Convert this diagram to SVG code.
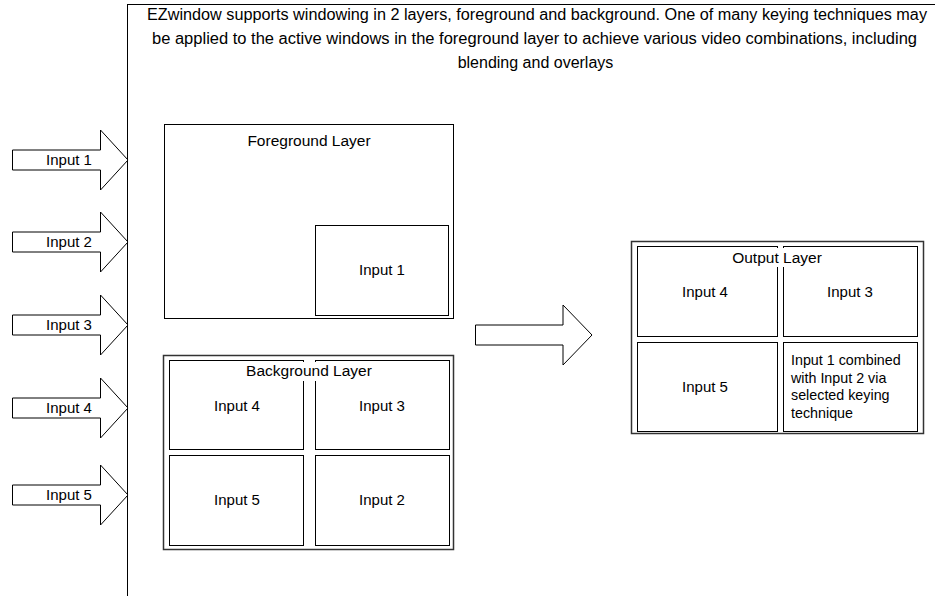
<svg xmlns="http://www.w3.org/2000/svg" width="935" height="596" viewBox="0 0 935 596">
<style>
text{font-family:"Liberation Sans",Arial,sans-serif;font-size:15px;fill:#000}
.c{text-anchor:middle}
.h{font-size:16px}
.t{font-size:15.5px}
.s{font-size:14.3px}
.box{fill:#fff;stroke:#000;stroke-width:1}
.outer{fill:#fff;stroke:#333;stroke-width:1.5}
.arr{fill:#fff;stroke:#000;stroke-width:1;stroke-linejoin:miter}
</style>
<rect width="935" height="596" fill="#fff"/>
<g id="frame">
<rect x="127.5" y="4.5" width="900" height="700" fill="#fff" stroke="#000"/>
<text class="h" x="147" y="20" textLength="780" lengthAdjust="spacingAndGlyphs">EZwindow supports windowing in 2 layers, foreground and background.  One of many keying techniques may</text>
<text class="h" x="152" y="44" textLength="765" lengthAdjust="spacingAndGlyphs">be applied to the active windows in the foreground layer to achieve various video combinations, including</text>
<text class="h c" x="535.5" y="68">blending and overlays</text>
</g>
<g id="connectors">
<polygon class="arr" points="12.5,150 100.5,150 100.5,130 128,160 100.5,190 100.5,170 12.5,170"/>
<polygon class="arr" points="12.5,232 100.5,232 100.5,212 128,242 100.5,272 100.5,252 12.5,252"/>
<polygon class="arr" points="12.5,315 100.5,315 100.5,295 128,325 100.5,355 100.5,335 12.5,335"/>
<polygon class="arr" points="12.5,398 100.5,398 100.5,378 128,408 100.5,438 100.5,418 12.5,418"/>
<polygon class="arr" points="12.5,485 100.5,485 100.5,465 128,495 100.5,525 100.5,505 12.5,505"/>
<polygon class="arr" points="475.5,325 563,325 563,305 592,335 563,365 563,345 475.5,345"/>
</g>
<g id="in1"><text class="c" x="69" y="165">Input 1</text></g>
<g id="in2"><text class="c" x="69" y="247">Input 2</text></g>
<g id="in3"><text class="c" x="69" y="330">Input 3</text></g>
<g id="in4"><text class="c" x="69" y="413">Input 4</text></g>
<g id="in5"><text class="c" x="69" y="500">Input 5</text></g>
<g id="foreground">
<rect class="box" x="164.5" y="124.5" width="289" height="194"/>
<text class="c t" x="309" y="146">Foreground Layer</text>
<rect class="box" x="315.5" y="225.5" width="133" height="90"/>
<text class="c" x="382" y="275">Input 1</text>
</g>
<g id="background">
<rect class="outer" x="163.5" y="355.5" width="290" height="194"/>
<rect class="box" x="169.5" y="360.5" width="134" height="89"/>
<rect class="box" x="315.5" y="360.5" width="134" height="89"/>
<rect class="box" x="169.5" y="455.5" width="134" height="90"/>
<rect class="box" x="315.5" y="455.5" width="134" height="90"/>
<rect x="240" y="362" width="139" height="19" fill="#fff"/>
<text class="c t" x="309" y="376">Background Layer</text>
<text class="c" x="237" y="411">Input 4</text>
<text class="c" x="382" y="411">Input 3</text>
<text class="c" x="237" y="505">Input 5</text>
<text class="c" x="382" y="505">Input 2</text>
</g>
<g id="output">
<rect class="outer" x="631.5" y="241.5" width="292" height="192"/>
<rect class="box" x="637.5" y="246.5" width="140" height="90"/>
<rect class="box" x="783.5" y="246.5" width="134" height="90"/>
<rect class="box" x="637.5" y="342.5" width="140" height="89"/>
<rect class="box" x="783.5" y="342.5" width="134" height="89"/>
<rect x="729" y="248" width="96" height="19" fill="#fff"/>
<text class="c t" x="777" y="263">Output Layer</text>
<text class="c" x="705" y="297">Input 4</text>
<text class="c" x="850" y="297">Input 3</text>
<text class="c" x="705" y="392">Input 5</text>
<text class="s" x="791" y="365">Input 1 combined</text>
<text class="s" x="791" y="383">with Input 2 via</text>
<text class="s" x="791" y="400">selected keying</text>
<text class="s" x="791" y="418">technique</text>
</g>
</svg>
